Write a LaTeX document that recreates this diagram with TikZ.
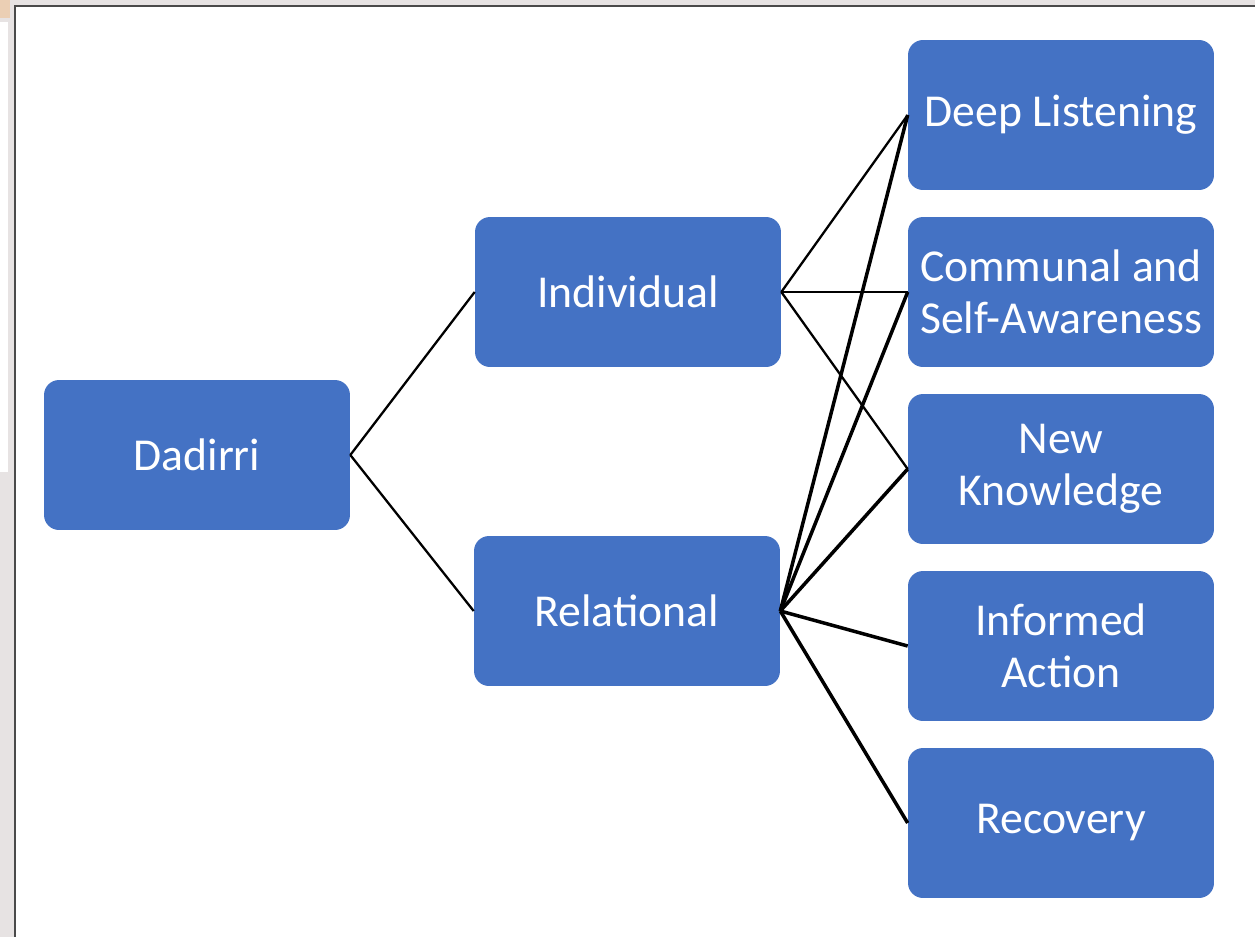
\documentclass[tikz,border=0pt]{standalone}
\usepackage{fontspec}
\setmainfont{Carlito}
\usepackage{tikz}
\definecolor{boxblue}{HTML}{4472C4}
\definecolor{pagegray}{HTML}{E7E3E3}
\definecolor{rimgray}{HTML}{4A4A4A}
\definecolor{blobbeige}{HTML}{EBCFB4}

\begin{document}
\begin{tikzpicture}[x=0.02cm,y=-0.02cm,
		box/.style={draw=none,fill=boxblue,rounded corners=0.3cm,minimum width=6.12cm,minimum height=3cm,
			text=white,align=center,font=\fontsize{26}{29.5}\selectfont,inner sep=0pt},
		thin link/.style={line width=1.3pt},
		thick link/.style={line width=2pt}]
		\useasboundingbox (0,0) rectangle (1255,937);
		\fill[pagegray] (0,0) rectangle (1255,937);
		\fill[blobbeige] (0,0) rectangle (10,18);
		\fill[white] (0,22) rectangle (8,472);
		\fill[white] (16,7) rectangle (1255,937);
		\fill[rimgray] (14,5) rectangle (1255,7);
		\fill[rimgray] (14,5) rectangle (16,937);
		\node[box] (dad) at (197,455) {Dadirri};
		\node[box] (ind) at (628,292) {Individual};
		\node[box] (rel) at (627,611) {Relational};
		\node[box] (deep) at (1061,115) {Deep Listening};
		\node[box] (comm) at (1061,292) {Communal and\\Self-Awareness};
		\node[box] (know) at (1061,469) {New\\Knowledge};
		\node[box] (act) at (1061,646) {Informed\\Action};
		\node[box] (rec) at (1061,823) {Recovery};
		\draw[thin link] (dad.east) -- (ind.west);
		\draw[thin link] (dad.east) -- (rel.west);
		\foreach \t in {deep,comm,know}
			\draw[thin link] (ind.east) -- (\t.west);
		\foreach \t in {deep,comm,know,act,rec}
			\draw[thick link] (rel.east) -- (\t.west);
	\end{tikzpicture}
\end{document}
